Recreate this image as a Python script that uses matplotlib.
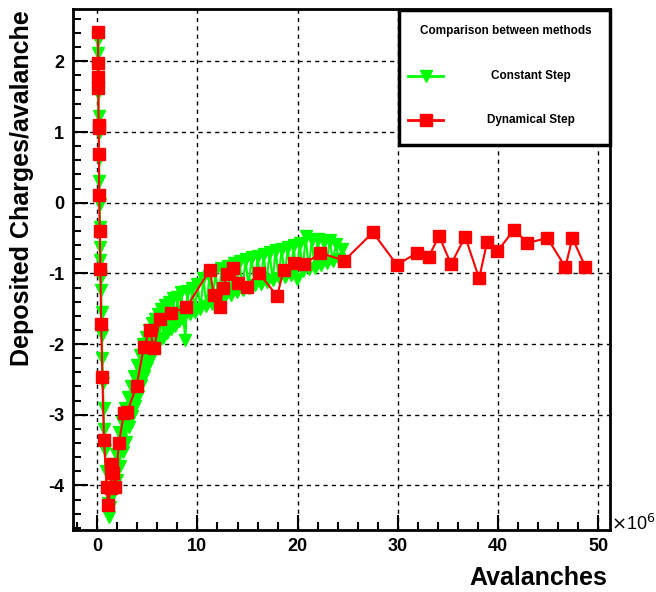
import matplotlib

matplotlib.use("Agg")
import matplotlib.pyplot as plt
from matplotlib.lines import Line2D
from matplotlib.patches import Rectangle
from matplotlib.ticker import MultipleLocator

plt.rcParams["font.family"] = ["Liberation Sans", "DejaVu Sans"]
plt.rcParams["axes.unicode_minus"] = False

# x in units of 1e6 avalanches
dyn_x = [0.08, 0.10, 0.11, 0.12, 0.14, 0.15, 0.17, 0.20, 0.26, 0.32, 0.40, 0.52, 0.68,
         0.95, 1.10, 1.35, 1.50, 1.62, 1.80, 2.17, 2.67, 3.00, 3.93, 4.66, 5.26, 5.66,
         6.26, 7.32, 8.91, 11.24, 11.64, 12.23, 12.57, 12.97, 13.57, 14.00, 14.96, 16.10,
         17.95, 18.60, 19.60, 20.67, 22.26, 24.65, 27.50, 29.90, 31.90, 33.05, 34.10,
         35.30, 36.70, 38.10, 38.90, 39.90, 41.60, 42.90, 44.90, 46.70, 47.40, 48.70]
dyn_y = [2.41, 1.97, 1.78, 1.62, 1.10, 1.05, 0.69, 0.11, -0.40, -0.94, -1.71, -2.46, -3.36,
         -4.02, -4.28, -4.03, -3.70, -3.83, -4.02, -3.40, -2.98, -2.96, -2.59, -2.04, -1.80,
         -2.06, -1.65, -1.56, -1.48, -0.95, -1.31, -1.47, -1.20, -1.01, -0.93, -1.14, -1.19,
         -0.99, -1.32, -0.95, -0.85, -0.87, -0.71, -0.82, -0.42, -0.88, -0.71, -0.77, -0.47,
         -0.87, -0.48, -1.07, -0.55, -0.69, -0.38, -0.57, -0.50, -0.91, -0.50, -0.91]

const_x = [0.05, 0.08, 0.10, 0.12, 0.15, 0.17, 0.20, 0.22, 0.25, 0.28, 0.30, 0.33, 0.36,
           0.40, 0.44, 0.48, 0.52, 0.58, 0.64, 0.70, 0.78, 0.86, 0.95, 1.05, 1.18, 1.30,
           1.45, 1.55, 1.70, 1.85, 2.00, 2.15, 2.30, 2.45, 2.60, 2.75,
           2.90, 3.05, 3.20, 3.35, 3.50, 3.65, 3.80, 3.95, 4.10, 4.25,
           4.40, 4.55, 4.70, 4.85, 5.00, 5.15, 5.30, 5.45, 5.60, 5.75,
           5.90, 6.05, 6.20, 6.40, 6.60, 6.80, 7.00, 7.20, 7.40, 7.60,
           7.80, 8.00, 8.20, 8.40, 8.60, 8.80, 9.00, 9.25, 9.50, 9.75,
           10.0, 10.3, 10.6, 10.9, 11.2, 11.5, 11.8, 12.1, 12.4, 12.7,
           13.0, 13.3, 13.6, 13.9, 14.2, 14.5, 14.8, 15.1, 15.4, 15.7,
           16.0, 16.3, 16.6, 16.9, 17.2, 17.5, 17.8, 18.1, 18.4, 18.7,
           19.0, 19.3, 19.6, 19.9, 20.2, 20.5, 20.8, 21.1, 21.4, 21.7,
           22.0, 22.3, 22.6, 22.9, 23.2, 23.5, 23.8, 24.1, 24.4]
const_y = [2.30, 2.12, 1.95, 1.55, 1.22, 0.98, 0.62, 0.30, -0.02, -0.35, -0.62, -0.81, -1.05,
           -1.23, -1.55, -1.87, -2.20, -2.55, -2.90, -3.20, -3.50, -3.80, -4.05, -4.25, -4.45,
           -4.30,
           -4.15, -3.70, -4.05, -3.55, -3.92, -3.25, -3.72, -3.10, -3.52, -2.90,
           -3.38, -2.75, -3.18, -2.60, -3.02, -2.45, -2.88, -2.30, -2.73, -2.15,
           -2.58, -2.00, -2.45, -1.90, -2.32, -1.80, -2.22, -1.70, -2.12, -1.65,
           -2.02, -1.57, -1.97, -1.50, -1.92, -1.45, -1.85, -1.40, -1.78, -1.35,
           -1.74, -1.33, -1.68, -1.27, -1.64, -1.94, -1.25, -1.58, -1.20, -1.54,
           -1.15, -1.50, -1.07, -1.46, -1.03, -1.43, -0.97, -1.38, -0.93, -1.35,
           -0.90, -1.30, -0.85, -1.27, -0.83, -1.23, -0.80, -1.20, -0.77, -1.17,
           -0.75, -1.15, -0.73, -1.12, -0.70, -1.10, -0.67, -1.07, -0.65, -1.05,
           -0.63, -1.02, -0.60, -1.08, -0.57, -0.96, -0.47, -0.94, -0.53, -0.92,
           -0.52, -0.88, -0.55, -0.85, -0.53, -0.83, -0.58, -0.80, -0.65]

GREEN = "#00ff00"
RED = "#ff0000"

W, H = 656, 592
fig = plt.figure(figsize=(W / 100, H / 100), dpi=100)


def fx(px):
    return px / W


def fy(py):
    return 1 - py / H


ax = fig.add_axes([fx(72.7), fy(530), fx(610) - fx(72.7), fy(9) - fy(530)])

ax.plot(const_x, const_y, color=GREEN, lw=1.5, marker="v", ms=9, mec=GREEN, mfc=GREEN, zorder=3)
ax.plot(dyn_x, dyn_y, color=RED, lw=1.5, marker="s", ms=8, mec=RED, mfc=RED, zorder=4)

ax.set_xlim(-2.44, 51.15)
ax.set_ylim(-4.63, 2.74)
ax.xaxis.set_major_locator(MultipleLocator(10))
ax.xaxis.set_minor_locator(MultipleLocator(2))
ax.yaxis.set_major_locator(MultipleLocator(1))
ax.yaxis.set_minor_locator(MultipleLocator(0.2))
ax.tick_params(which="both", direction="in", top=False, right=False, width=1.5)
ax.tick_params(which="major", length=11, labelsize=13, pad=6)
ax.tick_params(which="minor", length=6)
for lab in ax.get_xticklabels() + ax.get_yticklabels():
    lab.set_fontweight("bold")
for s in ax.spines.values():
    s.set_linewidth(2)
ax.grid(True, which="major", color="black", lw=1, ls=(0, (3, 3)))
ax.set_axisbelow(False)

fig.text(fx(22), fy(10), "Deposited Charges/avalanche", rotation=90, ha="center", va="top",
         fontsize=18, fontweight="bold")
fig.text(fx(607), fy(578), "Avalanches", ha="right", va="center", fontsize=18, fontweight="bold")
fig.text(fx(611), fy(530), r"$\times$10$^{6}$", ha="left", va="baseline", fontsize=13)

# legend box
fig.add_artist(Rectangle((fx(399), fy(145)), fx(610) - fx(399), fy(10) - fy(145),
                         transform=fig.transFigure, facecolor="white", edgecolor="black",
                         lw=2.5, zorder=10))
fig.text(fx(506), fy(31), "Comparison between methods", ha="center", va="center",
         fontsize=8.5, fontweight="bold", zorder=11)
for py, col, mk, label in [(76, GREEN, "v", "Constant Step"), (120, RED, "s", "Dynamical Step")]:
    fig.add_artist(Line2D([fx(408), fx(443)], [fy(py), fy(py)], transform=fig.transFigure,
                          color=col, lw=2, zorder=11))
    fig.add_artist(Line2D([fx(426)], [fy(py)], transform=fig.transFigure, marker=mk,
                          ms=8, color=col, zorder=12))
    fig.text(fx(531), fy(py), label, ha="center", va="center", fontsize=8.5,
             fontweight="bold", zorder=11)

fig.savefig("out.png", dpi=100, facecolor="white")
